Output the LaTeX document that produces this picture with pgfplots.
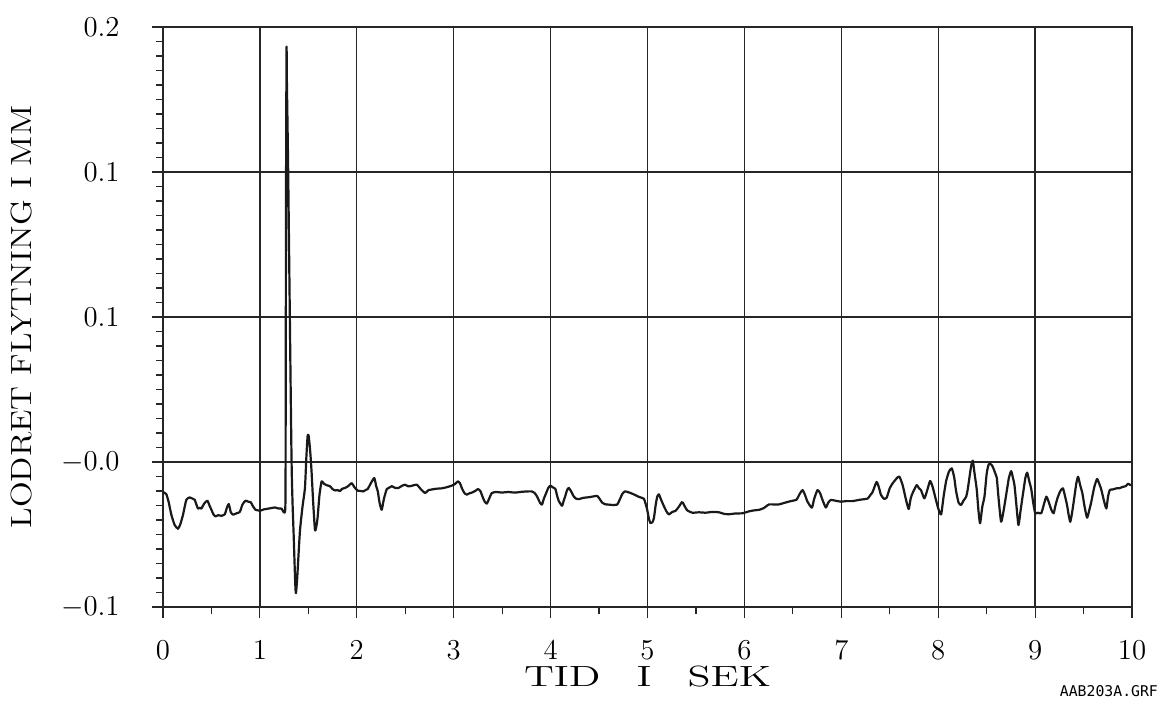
\documentclass[border=0pt]{standalone}
\usepackage{graphicx}
\usepackage{fontspec}
\newfontfamily\filefont{DejaVu Sans Mono}
\usepackage{pgfplots}
\pgfplotsset{compat=1.18}

% vertical displacement (mm) against time (s)
\pgfplotstableread{
t y
0.000 -0.0405
0.034 -0.0416
0.060 -0.0460
0.086 -0.0522
0.120 -0.0575
0.155 -0.0595
0.180 -0.0570
0.207 -0.0522
0.241 -0.0445
0.276 -0.0433
0.300 -0.0438
0.327 -0.0445
0.345 -0.0470
0.362 -0.0491
0.380 -0.0487
0.396 -0.0491
0.425 -0.0465
0.458 -0.0450
0.480 -0.0475
0.500 -0.0497
0.520 -0.0520
0.541 -0.0531
0.570 -0.0525
0.603 -0.0528
0.638 -0.0520
0.660 -0.0485
0.679 -0.0467
0.700 -0.0510
0.724 -0.0522
0.760 -0.0515
0.793 -0.0508
0.820 -0.0470
0.851 -0.0450
0.880 -0.0455
0.906 -0.0458
0.930 -0.0480
0.955 -0.0497
0.980 -0.0500
1.000 -0.0502
1.040 -0.0495
1.086 -0.0491
1.120 -0.0488
1.155 -0.0485
1.190 -0.0490
1.224 -0.0491
1.262 -0.0491
1.266 0.0000
1.270 0.1200
1.275 0.1890
1.279 0.1700
1.292 0.1250
1.327 -0.0250
1.350 -0.0650
1.365 -0.0880
1.372 -0.0928
1.385 -0.0850
1.413 -0.0609
1.440 -0.0480
1.465 -0.0384
1.480 -0.0220
1.492 -0.0117
1.500 -0.0110
1.506 -0.0125
1.520 -0.0200
1.533 -0.0298
1.550 -0.0460
1.568 -0.0600
1.580 -0.0590
1.595 -0.0540
1.615 -0.0420
1.637 -0.0350
1.660 -0.0362
1.690 -0.0370
1.723 -0.0375
1.750 -0.0390
1.774 -0.0397
1.800 -0.0395
1.826 -0.0400
1.850 -0.0388
1.878 -0.0384
1.910 -0.0375
1.947 -0.0359
1.975 -0.0380
2.009 -0.0398
2.040 -0.0400
2.068 -0.0402
2.090 -0.0395
2.112 -0.0390
2.150 -0.0355
2.181 -0.0333
2.200 -0.0375
2.216 -0.0400
2.235 -0.0460
2.257 -0.0497
2.280 -0.0440
2.309 -0.0390
2.335 -0.0382
2.361 -0.0375
2.400 -0.0385
2.430 -0.0384
2.470 -0.0372
2.498 -0.0367
2.533 -0.0376
2.575 -0.0372
2.619 -0.0367
2.660 -0.0390
2.705 -0.0410
2.740 -0.0395
2.774 -0.0392
2.820 -0.0388
2.877 -0.0386
2.930 -0.0380
2.981 -0.0372
3.010 -0.0365
3.043 -0.0350
3.065 -0.0360
3.084 -0.0385
3.110 -0.0410
3.136 -0.0419
3.160 -0.0412
3.188 -0.0408
3.220 -0.0400
3.250 -0.0390
3.275 -0.0400
3.298 -0.0430
3.320 -0.0455
3.343 -0.0465
3.365 -0.0440
3.394 -0.0410
3.440 -0.0405
3.498 -0.0408
3.560 -0.0405
3.636 -0.0408
3.700 -0.0404
3.760 -0.0402
3.808 -0.0402
3.835 -0.0410
3.860 -0.0428
3.890 -0.0460
3.911 -0.0470
3.930 -0.0440
3.952 -0.0413
3.975 -0.0385
3.997 -0.0372
4.020 -0.0380
4.049 -0.0389
4.065 -0.0420
4.083 -0.0450
4.118 -0.0476
4.135 -0.0450
4.152 -0.0425
4.170 -0.0395
4.187 -0.0384
4.210 -0.0400
4.239 -0.0428
4.265 -0.0440
4.290 -0.0442
4.340 -0.0435
4.394 -0.0432
4.440 -0.0428
4.480 -0.0425
4.505 -0.0440
4.532 -0.0460
4.560 -0.0468
4.594 -0.0470
4.640 -0.0472
4.687 -0.0470
4.711 -0.0447
4.740 -0.0415
4.766 -0.0402
4.795 -0.0405
4.825 -0.0410
4.870 -0.0420
4.911 -0.0430
4.940 -0.0435
4.963 -0.0440
4.980 -0.0465
4.997 -0.0497
5.015 -0.0545
5.031 -0.0566
5.050 -0.0562
5.066 -0.0540
5.085 -0.0470
5.100 -0.0430
5.117 -0.0417
5.140 -0.0445
5.169 -0.0478
5.195 -0.0505
5.221 -0.0521
5.255 -0.0508
5.290 -0.0502
5.325 -0.0480
5.358 -0.0457
5.385 -0.0480
5.410 -0.0500
5.462 -0.0512
5.530 -0.0510
5.600 -0.0512
5.670 -0.0508
5.738 -0.0510
5.790 -0.0518
5.841 -0.0520
5.910 -0.0516
5.979 -0.0515
6.048 -0.0505
6.100 -0.0500
6.152 -0.0497
6.200 -0.0488
6.255 -0.0469
6.310 -0.0470
6.359 -0.0469
6.420 -0.0460
6.479 -0.0452
6.537 -0.0445
6.570 -0.0415
6.600 -0.0395
6.625 -0.0420
6.651 -0.0455
6.696 -0.0486
6.720 -0.0440
6.754 -0.0395
6.780 -0.0410
6.806 -0.0446
6.840 -0.0485
6.865 -0.0460
6.892 -0.0446
6.940 -0.0450
6.996 -0.0455
7.050 -0.0452
7.116 -0.0452
7.190 -0.0445
7.271 -0.0439
7.300 -0.0420
7.323 -0.0405
7.364 -0.0353
7.390 -0.0385
7.409 -0.0420
7.440 -0.0440
7.468 -0.0434
7.500 -0.0385
7.530 -0.0360
7.570 -0.0335
7.599 -0.0325
7.633 -0.0370
7.665 -0.0440
7.695 -0.0493
7.715 -0.0440
7.736 -0.0410
7.778 -0.0369
7.800 -0.0385
7.822 -0.0395
7.857 -0.0438
7.890 -0.0390
7.916 -0.0348
7.940 -0.0375
7.961 -0.0415
8.000 -0.0490
8.030 -0.0521
8.055 -0.0430
8.081 -0.0350
8.110 -0.0300
8.140 -0.0283
8.165 -0.0330
8.184 -0.0400
8.210 -0.0460
8.236 -0.0472
8.260 -0.0450
8.288 -0.0430
8.305 -0.0390
8.322 -0.0330
8.340 -0.0270
8.357 -0.0243
8.375 -0.0310
8.397 -0.0390
8.415 -0.0500
8.432 -0.0567
8.455 -0.0480
8.477 -0.0430
8.500 -0.0310
8.521 -0.0262
8.545 -0.0262
8.563 -0.0275
8.590 -0.0310
8.604 -0.0330
8.625 -0.0450
8.649 -0.0559
8.675 -0.0500
8.701 -0.0420
8.730 -0.0330
8.753 -0.0297
8.770 -0.0330
8.787 -0.0370
8.808 -0.0480
8.828 -0.0576
8.850 -0.0500
8.873 -0.0420
8.900 -0.0330
8.918 -0.0305
8.940 -0.0350
8.960 -0.0390
8.980 -0.0460
9.001 -0.0515
9.030 -0.0512
9.063 -0.0515
9.090 -0.0470
9.115 -0.0429
9.132 -0.0445
9.149 -0.0470
9.170 -0.0500
9.191 -0.0515
9.212 -0.0470
9.235 -0.0430
9.260 -0.0400
9.287 -0.0386
9.310 -0.0430
9.329 -0.0472
9.345 -0.0520
9.363 -0.0559
9.385 -0.0500
9.408 -0.0420
9.425 -0.0360
9.443 -0.0326
9.465 -0.0370
9.487 -0.0410
9.510 -0.0480
9.536 -0.0538
9.558 -0.0500
9.580 -0.0455
9.610 -0.0380
9.639 -0.0338
9.660 -0.0360
9.684 -0.0395
9.710 -0.0450
9.735 -0.0490
9.752 -0.0430
9.770 -0.0395
9.800 -0.0392
9.839 -0.0386
9.870 -0.0385
9.908 -0.0378
9.935 -0.0375
9.959 -0.0362
9.980 -0.0368
9.993 -0.0369
}\displacement

\begin{document}
\begin{tikzpicture}
\begin{axis}[
  scale only axis,
  width=484.5pt, height=290pt,
  xmin=0, xmax=10, ymin=-0.1, ymax=0.2,
  xtick={0,1,...,10},
  minor x tick num=1,
  ytick={-0.1,-0.025,0.05,0.125,0.2},
  yticklabels={$-0.1$,$-0.0$,$0.1$,$0.1$,$0.2$},
  minor y tick num=9,
  xtick pos=bottom, ytick pos=left,
  tick align=outside,
  major tick length=5.5pt, minor tick length=3.5pt,
  tick style={black!85, line width=0.6pt},
  grid=major,
  major grid style={black!85, line width=0.65pt},
  axis line style={black!85, line width=0.7pt},
  tick label style={font=\fontsize{15}{18}\selectfont},
  xticklabel style={anchor=north, inner sep=0pt, yshift=-11pt},
  yticklabel style={anchor=east, inner sep=0pt, xshift=-16pt},
  xlabel={\scalebox{1.45}[1]{TID\hspace{0.85em}I\hspace{0.85em}SEK}},
  xlabel style={at={(axis description cs:0.5,-0.1362)}, anchor=base,
    font=\fontsize{14.6}{17}\selectfont},
  ylabel={\scalebox{1.155}[1]{LODRET FLYTNING I MM}},
  ylabel style={at={(axis description cs:-0.1455,0.5)}, anchor=center,
    font=\fontsize{14.6}{17}\selectfont},
  clip=false,
]
\addplot[black!90, line width=1.1pt, line join=round, smooth, tension=0.35]
  table[x=t, y=y] {\displacement};
\node[anchor=base east, font=\filefont\fontsize{7.4}{9}\selectfont]
  at (axis description cs:1.034,-0.155) {AAB203A.GRF};
\path (axis description cs:-0.1682,-0.1638) rectangle (axis description cs:1.0433,1.0466);
\end{axis}
\end{tikzpicture}
\end{document}
